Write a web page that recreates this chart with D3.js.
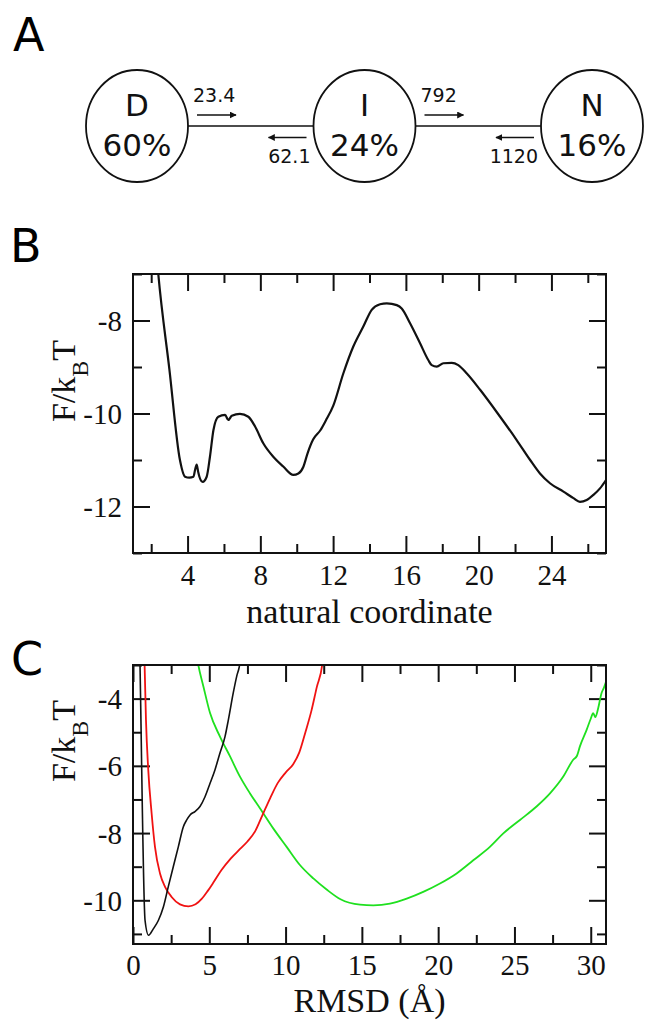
<!DOCTYPE html>
<html>
<head>
<meta charset="utf-8">
<script src="https://cdn.jsdelivr.net/npm/d3@7"></script>
<style>
  body { margin: 0; background: #fff; }
  svg { display: block; }
  .tick text { font-family: "Liberation Serif", "Times New Roman", serif; font-size: 29px; fill: #111; }
  .tick line { stroke: #111; stroke-width: 2; }
  .axis-title { font-family: "Liberation Serif", "Times New Roman", serif; font-size: 34px; fill: #111; }
  .panel-letter { font-family: "DejaVu Sans", sans-serif; font-size: 46px; fill: #000; }
  .state-text { font-family: "DejaVu Sans", sans-serif; font-size: 31px; fill: #111; }
  .rate-text { font-family: "DejaVu Sans", sans-serif; font-size: 19px; fill: #111; }
</style>
</head>
<body>
<svg id="fig" width="645" height="1025"></svg>
<script>
// ---- panel A: three-state kinetic scheme
const states = ['D', 'I', 'N']
const populations = ['60%', '24%', '16%']
const forwardRates = ['23.4', '792']
const backwardRates = ['62.1', '1120']

// ---- panel B: free energy along the natural coordinate
const bXMajor = [4, 8, 12, 16, 20, 24]
const bXMinor = [2, 6, 10, 14, 18, 22, 26]
const bYMajor = [-8, -10, -12]
const bYMinor = [-7, -9, -11, -13]
const bCurve = [
  [2.3, -6.6], [2.39, -7.0], [3.0, -9.05], [3.58, -11.0], [3.86, -11.36], [4.1, -11.38],
  [4.32, -11.36], [4.42, -11.2], [4.5, -11.1], [4.58, -11.25], [4.65, -11.36], [4.83, -11.47],
  [5.05, -11.36], [5.23, -10.93], [5.42, -10.36], [5.69, -10.07], [6.06, -10.03], [6.24, -10.14],
  [6.43, -10.05], [6.88, -10.01], [7.34, -10.07], [7.71, -10.28], [8.16, -10.64], [8.71, -10.93],
  [9.26, -11.14], [9.81, -11.32], [10.09, -11.29], [10.36, -11.15], [10.6, -10.85], [10.9, -10.56],
  [11.3, -10.36], [11.6, -10.15], [12.01, -9.83], [12.56, -9.14], [13.11, -8.56], [13.66, -8.13],
  [14.12, -7.77], [14.58, -7.65], [14.95, -7.63], [15.5, -7.67], [15.77, -7.74], [16.23, -8.06],
  [16.78, -8.49], [17.23, -8.85], [17.42, -8.96], [17.7, -8.99], [18.06, -8.92], [18.52, -8.91],
  [18.88, -8.96], [19.35, -9.14], [20.08, -9.49], [21.18, -10.07], [22.09, -10.57], [22.83, -11.0],
  [23.37, -11.29], [23.92, -11.5], [24.66, -11.68], [25.21, -11.82], [25.57, -11.9], [25.94, -11.86],
  [26.31, -11.75], [26.67, -11.61], [27.0, -11.43]
]

// ---- panel C: free energy vs RMSD
const cXMajor = [0, 5, 10, 15, 20, 25, 30]
const cXMinor = [2.5, 7.5, 12.5, 17.5, 22.5, 27.5]
const cYMajor = [-4, -6, -8, -10]
const cYMinor = [-3, -5, -7, -9, -11]
const cBlack = [
  [0.4, -1.5], [0.46, -3.0], [0.79, -10.6], [1.02, -11.04], [1.33, -10.85], [1.66, -10.6],
  [1.99, -10.2], [2.31, -9.6], [2.64, -9.0], [2.97, -8.41], [3.3, -7.81], [3.52, -7.61],
  [3.74, -7.46], [4.06, -7.36], [4.39, -7.21], [4.72, -6.92], [5.05, -6.52], [5.37, -6.12],
  [5.7, -5.62], [6.03, -5.13], [6.25, -4.63], [6.57, -3.83], [6.8, -3.33], [6.97, -3.04], [7.1, -2.6]
]
const cRed = [
  [0.72, -2.5], [0.76, -3.0], [0.85, -4.63], [1.0, -6.12], [1.22, -7.41], [1.44, -8.41],
  [1.77, -9.2], [2.1, -9.6], [2.53, -9.9], [3.08, -10.12], [3.63, -10.18], [4.1, -10.12],
  [4.5, -9.96], [4.9, -9.72], [5.3, -9.45], [5.8, -9.1], [6.4, -8.76], [7.0, -8.48],
  [7.5, -8.25], [8.0, -7.95], [8.5, -7.45], [9.0, -6.95], [9.5, -6.5], [10.0, -6.2],
  [10.5, -5.95], [10.9, -5.6], [11.3, -5.0], [11.7, -4.35], [12.05, -3.65], [12.4, -3.0], [12.5, -2.6]
]
const cGreen = [
  [4.2, -2.8], [4.28, -3.0], [4.61, -3.63], [5.05, -4.43], [5.7, -5.13], [6.36, -5.72],
  [7.01, -6.32], [7.67, -6.82], [8.32, -7.26], [9.19, -7.86], [10.07, -8.41], [10.94, -8.95],
  [11.82, -9.35], [12.69, -9.68], [13.6, -9.97], [14.88, -10.13], [15.75, -10.15], [16.84, -10.1],
  [17.94, -9.95], [19.02, -9.75], [20.12, -9.5], [21.21, -9.2], [22.3, -8.81], [23.39, -8.41],
  [24.27, -8.01], [25.36, -7.61], [26.45, -7.21], [27.33, -6.82], [28.2, -6.32], [28.85, -5.82],
  [29.1, -5.7], [29.29, -5.42], [29.73, -4.93], [30.0, -4.6], [30.16, -4.43], [30.3, -4.55],
  [30.49, -4.28], [30.71, -3.83], [30.86, -3.68], [31.0, -3.5]
]

const svg = d3.select('#fig')

// ---------- panel A
const nodeX = d3.scalePoint().domain(states).range([137, 592])
const node = { cy: 126, rx: 51, ry: 56 }

svg.append('defs').append('marker')
    .attr('id', 'head')
    .attr('viewBox', '0 0 10 10')
    .attr('refX', 9).attr('refY', 5)
    .attr('markerWidth', 7).attr('markerHeight', 7)
    .attr('markerUnits', 'userSpaceOnUse')
    .attr('orient', 'auto')
  .append('path')
    .attr('d', 'M0,0 L10,5 L0,10 Z')
    .attr('fill', '#111')

const scheme = svg.append('g')

states.slice(0, -1).forEach((s, i) => {
  let x0 = nodeX(s) + node.rx
  let x1 = nodeX(states[i + 1]) - node.rx
  scheme.append('line')
      .attr('x1', x0).attr('x2', x1)
      .attr('y1', node.cy).attr('y2', node.cy)
      .attr('stroke', '#111').attr('stroke-width', 1.6)

  // forward
  scheme.append('line')
      .attr('x1', x0 + 9).attr('x2', x0 + 48)
      .attr('y1', 115).attr('y2', 115)
      .attr('stroke', '#111').attr('stroke-width', 1.6)
      .attr('marker-end', 'url(#head)')
  scheme.append('text')
      .attr('class', 'rate-text')
      .attr('x', x0 + 5).attr('y', 102)
      .text(forwardRates[i])

  // backward
  scheme.append('line')
      .attr('x1', x1 - 7).attr('x2', x1 - 45)
      .attr('y1', 137.5).attr('y2', 137.5)
      .attr('stroke', '#111').attr('stroke-width', 1.6)
      .attr('marker-end', 'url(#head)')
  scheme.append('text')
      .attr('class', 'rate-text')
      .attr('x', x1 - 3).attr('y', 163)
      .style('text-anchor', 'end')
      .text(backwardRates[i])
})

scheme.selectAll('.state')
    .data(states)
    .join('ellipse')
      .attr('class', 'state')
      .attr('cx', d => nodeX(d))
      .attr('cy', node.cy)
      .attr('rx', node.rx)
      .attr('ry', node.ry)
      .attr('fill', '#fff')
      .attr('stroke', '#111')
      .attr('stroke-width', 1.8)

scheme.selectAll('.state-name')
    .data(states)
    .join('text')
      .attr('class', 'state-text state-name')
      .attr('x', d => nodeX(d))
      .attr('y', 116)
      .style('text-anchor', 'middle')
      .text(d => d)

scheme.selectAll('.state-pop')
    .data(states)
    .join('text')
      .attr('class', 'state-text state-pop')
      .attr('x', d => nodeX(d))
      .attr('y', 156)
      .style('text-anchor', 'middle')
      .text((d, i) => populations[i])

// ---------- plot panels B and C
function drawPanel(cfg) {
  let g = svg.append('g')
  let x = d3.scaleLinear().domain(cfg.xDomain).range([cfg.left, cfg.right])
  let y = d3.scaleLinear().domain(cfg.yDomain).range([cfg.bottom, cfg.top])
  let major = 17, minor = 9
  let noDomain = sel => sel.select('.domain').remove()

  g.append('clipPath').attr('id', cfg.id + '-clip')
    .append('rect')
      .attr('x', cfg.left).attr('y', cfg.top)
      .attr('width', cfg.right - cfg.left).attr('height', cfg.bottom - cfg.top)

  // bottom / top
  g.append('g').attr('transform', `translate(0,${cfg.bottom})`)
      .call(d3.axisBottom(x).tickValues(cfg.xMajor).tickSize(-major).tickFormat(d => String(d)))
      .call(noDomain)
      .call(sel => sel.selectAll('text').attr('y', cfg.xLabelGap).attr('dy', null))
  g.append('g').attr('transform', `translate(0,${cfg.bottom})`)
      .call(d3.axisBottom(x).tickValues(cfg.xMinor).tickSize(-minor).tickFormat(''))
      .call(noDomain)
  g.append('g').attr('transform', `translate(0,${cfg.top})`)
      .call(d3.axisTop(x).tickValues(cfg.xMajor).tickSize(-major).tickFormat(''))
      .call(noDomain)
  g.append('g').attr('transform', `translate(0,${cfg.top})`)
      .call(d3.axisTop(x).tickValues(cfg.xMinor).tickSize(-minor).tickFormat(''))
      .call(noDomain)

  // left / right
  g.append('g').attr('transform', `translate(${cfg.left},0)`)
      .call(d3.axisLeft(y).tickValues(cfg.yMajor).tickSize(-major).tickPadding(11).tickFormat(d => String(d)))
      .call(noDomain)
      .call(sel => sel.selectAll('text').attr('dy', '0.35em'))
  g.append('g').attr('transform', `translate(${cfg.left},0)`)
      .call(d3.axisLeft(y).tickValues(cfg.yMinor).tickSize(-minor).tickFormat(''))
      .call(noDomain)
  g.append('g').attr('transform', `translate(${cfg.right},0)`)
      .call(d3.axisRight(y).tickValues(cfg.yMajor).tickSize(-major).tickFormat(''))
      .call(noDomain)
  g.append('g').attr('transform', `translate(${cfg.right},0)`)
      .call(d3.axisRight(y).tickValues(cfg.yMinor).tickSize(-minor).tickFormat(''))
      .call(noDomain)

  let line = d3.line()
      .x(d => x(d[0]))
      .y(d => y(d[1]))
      .curve(d3.curveMonotoneX)

  let curves = g.append('g').attr('clip-path', `url(#${cfg.id}-clip)`)
  cfg.series.forEach(s => {
    curves.append('path')
        .datum(s.data)
        .attr('fill', 'none')
        .attr('stroke', s.color)
        .attr('stroke-width', s.width)
        .attr('stroke-linejoin', 'round')
        .attr('d', line)
  })

  g.append('rect')
      .attr('x', cfg.left).attr('y', cfg.top)
      .attr('width', cfg.right - cfg.left).attr('height', cfg.bottom - cfg.top)
      .attr('fill', 'none')
      .attr('stroke', '#111')
      .attr('stroke-width', 2)

  g.append('text')
      .attr('class', 'axis-title')
      .attr('x', (cfg.left + cfg.right) / 2)
      .attr('y', cfg.bottom + cfg.xTitleGap)
      .style('text-anchor', 'middle')
      .text(cfg.xTitle)

  let yt = g.append('text')
      .attr('class', 'axis-title')
      .attr('transform', `translate(75,${cfg.yTitleY}) rotate(-90)`)
      .style('text-anchor', 'middle')
  yt.append('tspan').text('F/k')
  yt.append('tspan').attr('font-size', '24px').attr('dy', 13).text('B')
  yt.append('tspan').attr('dy', -13).text('T')
}

drawPanel({
  id: 'b', left: 133, right: 606, top: 274, bottom: 553,
  xDomain: [1, 27], yDomain: [-13, -7],
  xMajor: bXMajor, xMinor: bXMinor, yMajor: bYMajor, yMinor: bYMinor,
  xLabelGap: 32, xTitleGap: 70, xTitle: 'natural coordinate', yTitleY: 381,
  series: [{ data: bCurve, color: '#111', width: 2.2 }]
})

drawPanel({
  id: 'c', left: 133, right: 606, top: 665, bottom: 944,
  xDomain: [0, 31], yDomain: [-11.3, -3],
  xMajor: cXMajor, xMinor: cXMinor, yMajor: cYMajor, yMinor: cYMinor,
  xLabelGap: 31, xTitleGap: 68, xTitle: 'RMSD (Å)', yTitleY: 741,
  series: [
    { data: cGreen, color: '#1fe01f', width: 1.8 },
    { data: cRed, color: '#f01212', width: 1.8 },
    { data: cBlack, color: '#111', width: 1.6 }
  ]
})

// panel letters
svg.selectAll('.panel-letter')
    .data([['A', 13, 51], ['B', 10, 262], ['C', 11, 675]])
    .join('text')
      .attr('class', 'panel-letter')
      .attr('x', d => d[1])
      .attr('y', d => d[2])
      .text(d => d[0])
</script>
</body>
</html>
